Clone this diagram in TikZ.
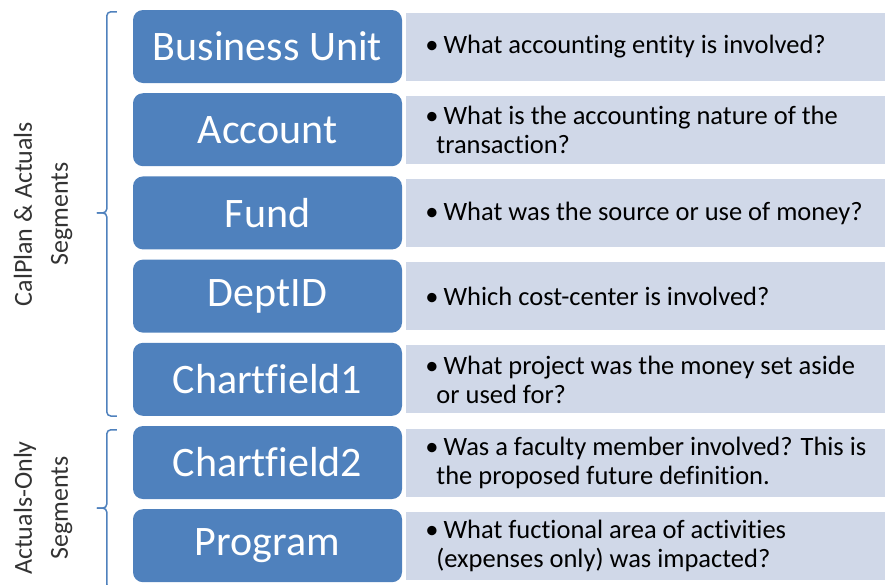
\documentclass[tikz,border=0pt]{standalone}
\usepackage{fontspec}
\setmainfont{Carlito}[Ligatures=NoCommon]
\usetikzlibrary{calc,positioning}
\definecolor{segblue}{HTML}{4F81BD}
\definecolor{segpale}{HTML}{D0D8E8}

\begin{document}
\begin{tikzpicture}[x=1pt,y=-1pt,
  segment/.style={rectangle,rounded corners=10pt,fill=segblue,text=white,
    minimum width=269pt,minimum height=73pt,inner sep=0pt,
    font=\fontsize{42}{50}\selectfont},
  panel/.style={rectangle,fill=segpale,draw=white,line width=1pt,
    minimum width=482pt,minimum height=69pt,inner sep=0pt},
  question/.style={anchor=west,align=left,inner sep=0pt,
    font=\fontsize{26.5}{29}\selectfont},
  bracket/.style={draw=segblue,line width=1.5pt,rounded corners=4pt},
  group/.style={rotate=90,align=center,text=black!80,
    font=\fontsize{26}{36}\selectfont}]
  \useasboundingbox (0,0) rectangle (885,584);
  % segments and their questions
  \foreach \seg/\name/\ask [count=\i from 0] in {
      bu/Business Unit/{What accounting entity is involved?},
      acct/Account/{What is the accounting nature of the\\\hspace*{11pt}transaction?},
      fund/Fund/{What was the source or use of money?},
      dept/DeptID/{Which cost-center is involved?},
      cfa/Chartfield1/{What project was the money set aside\\\hspace*{11pt}or used for?},
      cfb/Chartfield2/{Was a faculty member involved? This is\\\hspace*{11pt}the proposed future definition.},
      prog/Program/{What fuctional area of activities\\\hspace*{11pt}(expenses only) was impacted?}}
  {
    \node[segment] (\seg) at (267.5,{46.5+83.2*\i}) {\name};
    \node[panel,right=3pt of \seg] (\seg-p) {};
    \node[question] (\seg-q) at ($(\seg-p.west)+(20,0.5)$)
      {\textbullet\hspace{5pt}\ask};
  }
  % braces
  \draw[bracket] ($(bu.north west)+(-16,2)$) -| ($(fund.west)+(-26,0)$)
    -- ($(fund.west)+(-36,0)$);
  \draw[bracket] ($(fund.west)+(-36,0)$) -- ($(fund.west)+(-26,0)$)
    |- ($(cfa.south west)+(-16,0)$);
  \coordinate (lowtip) at ($(cfb.south west)!0.5!(prog.north west)+(-36,4)$);
  \draw[bracket] ($(cfb.north west)+(-16,4)$) -| ($(lowtip)+(10,0)$) -- (lowtip);
  \draw[bracket] (lowtip) -- ($(lowtip)+(10,0)$) |- ($(prog.south west)+(-16,6)$);
  \node[group] (plan) at (43,214) {CalPlan \& Actuals\\Segments};
  \node[group] (only) at (43,508) {Actuals-Only\\Segments};
\end{tikzpicture}
\end{document}
